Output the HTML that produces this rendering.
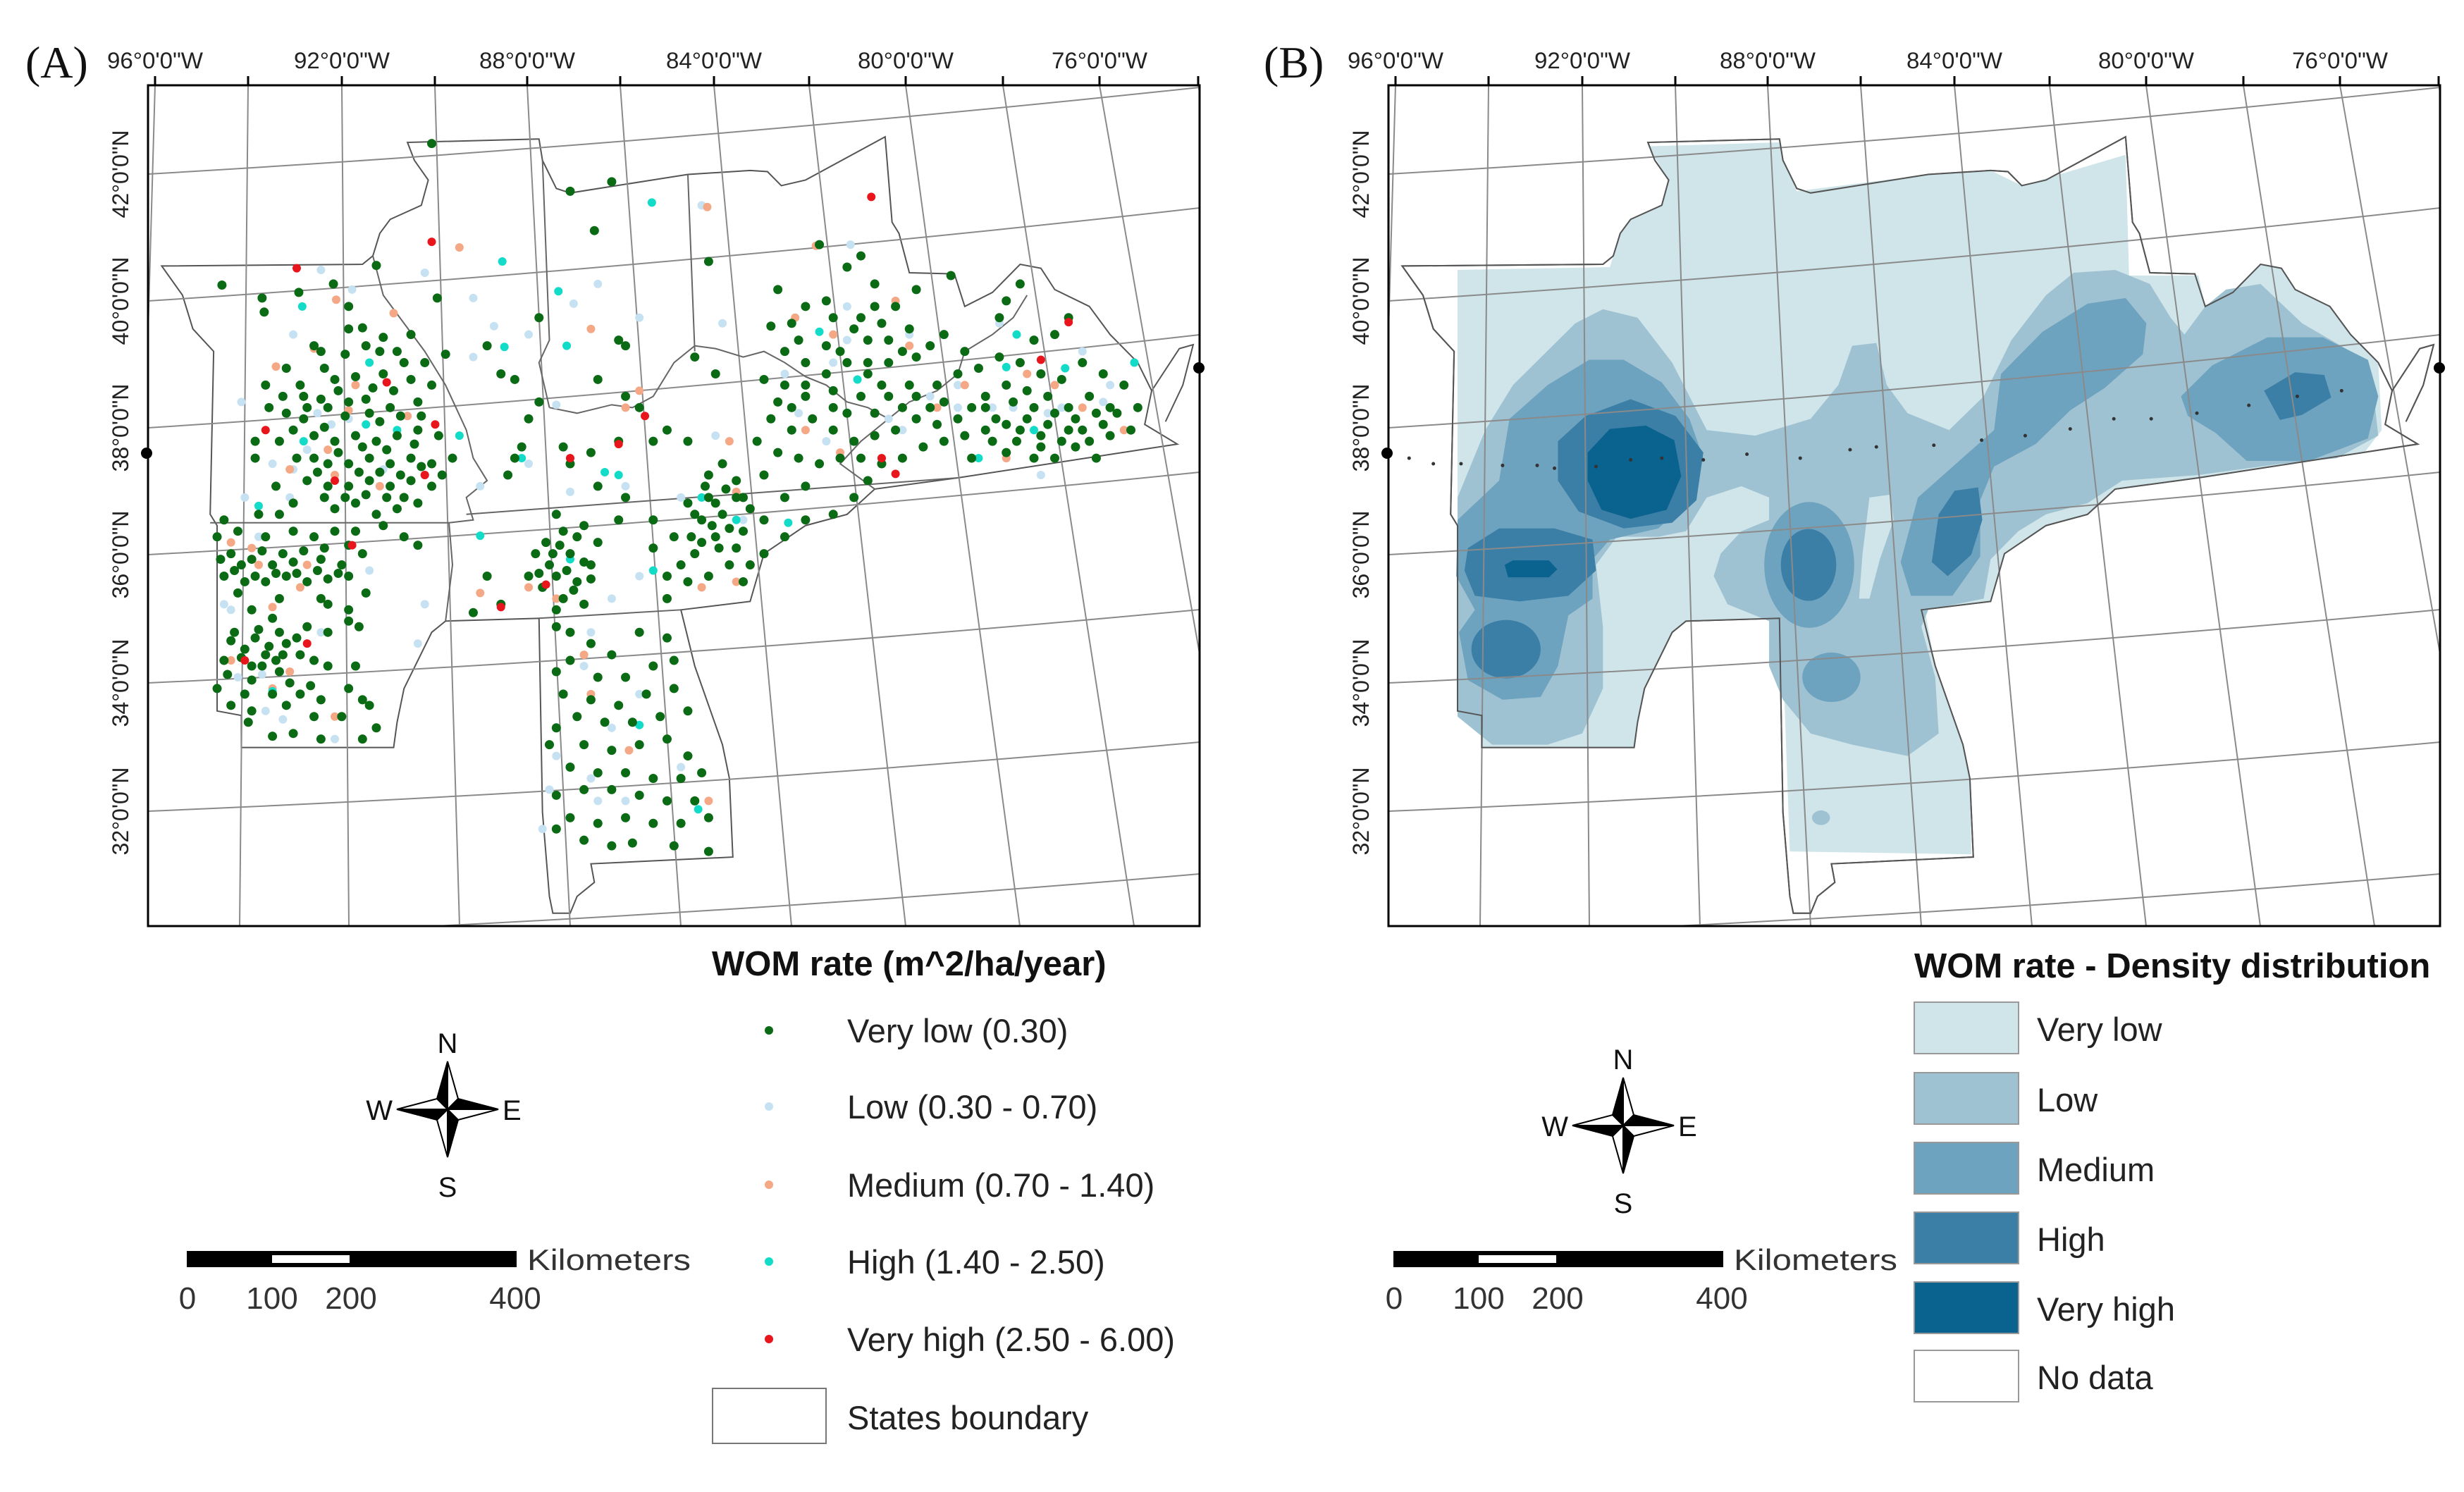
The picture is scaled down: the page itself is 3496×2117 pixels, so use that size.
<!DOCTYPE html>
<html><head><meta charset="utf-8"><style>
html,body{margin:0;padding:0;background:#fff}
svg{display:block}
</style></head><body>
<svg id="fig" xmlns="http://www.w3.org/2000/svg" width="3496" height="2117" viewBox="0 0 3496 2117" font-family="Liberation Sans, Arial, sans-serif">
<defs>
<clipPath id="clipA"><rect x="210" y="121" width="1492" height="1193"/></clipPath>
<clipPath id="clipB"><rect x="1970" y="121" width="1492" height="1193"/></clipPath>
</defs>
<g id="panelA"></g>
<g id="panelB"></g>
</svg>
<script>
// ---- map data (projected map coordinates) ----
const lonLabels = ["96°0'0\"W","92°0'0\"W","88°0'0\"W","84°0'0\"W","80°0'0\"W","76°0'0\"W"];
const lonLabelX = [220,485,748,1013,1285,1560];
const latLabels = ["42°0'0\"N","40°0'0\"N","38°0'0\"N","36°0'0\"N","34°0'0\"N","32°0'0\"N"];
const meridTop = [220,352,485,617,748,880,1013,1148,1285,1423,1560,1700];
const meridBot = [186,340,495,652,809,966,1123,1285,1447,1609,1770,1935];
const parLeft = [247,427,607,787,969,1151,1332];
const parRight = [124,295,475,670,865,1053,1240];

const ptsVeryLow = [[420,130],[655,285],[820,340],[680,198],[620,215],[117,382],[175,405],[178,430],[228,395],[278,380],[300,420],[340,347],[428,405],[410,520],[440,505],[390,470],[350,475],[300,460],[320,458],[260,500],[250,490],[210,530],[180,560],[230,560],[280,550],[310,545],[350,540],[380,520],[420,560],[400,590],[360,600],[330,610],[300,590],[270,600],[240,600],[210,610],[220,640],[250,650],[280,660],[310,650],[340,660],[370,650],[400,640],[430,650],[450,690],[420,700],[390,690],[360,700],[330,690],[300,700],[270,700],[250,690],[240,730],[270,740],[300,740],[330,730],[360,740],[390,730],[420,740],[400,770],[370,780],[340,790],[310,770],[280,780],[220,770],[200,790],[170,790],[165,690],[165,660],[120,800],[110,830],[140,820],[180,830],[220,820],[250,830],[280,820],[310,820],[350,810],[380,830],[400,845],[130,860],[160,870],[190,880],[220,875],[260,870],[290,880],[320,860],[120,900],[150,910],[180,910],[210,900],[240,910],[270,905],[300,900],[140,930],[200,940],[260,940],[300,960],[160,960],[190,975],[240,990],[270,1000],[300,980],[170,995],[200,1000],[130,1015],[150,1030],[180,1040],[210,1020],[230,1040],[250,1050],[120,1050],[160,1060],[200,1070],[270,1060],[110,1100],[150,1110],[190,1110],[230,1110],[260,1120],[300,1100],[320,1120],[130,1130],[160,1140],[210,1130],[250,1150],[290,1150],[330,1130],[155,1160],[190,1185],[220,1180],[260,1190],[320,1190],[340,1170],[310,1060],[315,990],[270,950],[325,930],
[285,570],[295,615],[325,585],[345,625],[375,615],[395,665],[355,675],[320,670],[285,680],[265,635],[235,620],[255,715],[315,715],[345,715],[375,720],[405,705],[435,720],[355,760],[325,755],[295,760],[265,760],[380,760],[405,615],[365,570],[335,565],[260,585],[390,550],[235,580],[225,690],[200,660],[195,740],[185,600],[205,580],[265,530],[295,505],[345,500],[370,500],[325,490],[145,880],[175,855],[205,860],[235,855],[265,850],[300,845],[115,870],[135,890],[165,900],[195,895],[225,895],[255,890],[285,895],[135,1000],[165,1010],[185,1025],[205,1040],[225,1010],[145,1045],[175,1060],[195,1050],[125,1075],[215,1090],[245,1095],[160,1085],
[585,840],[605,845],[630,830],[640,875],[615,890],[595,860],[575,895],[625,925],[650,905],[820,760],[830,770],[845,745],[860,730],[815,740],[800,790],[825,810],[850,815],[835,850],[810,840],[795,830],[860,850],[1220,600],[1260,590],[1290,600],[1320,610],[1350,620],[1380,610],[1410,610],[1235,620],[1270,640],[1300,650],[1330,660],[1360,640],[1390,630],[1160,590],[1140,600],[1230,660],[1265,660],[1290,690],[1320,690],[1000,600],[1020,610],[940,600],[960,560],[920,590],[1060,610],[1100,600],[1120,580],[1050,520],[1070,560],[990,490],[1010,500],[950,480],[940,450],[1040,440],[1060,420],[1080,480],[1100,500],
[575,440],[540,550],[500,490],[520,540],[575,590],[560,620],[540,690],[550,670],[530,720],[610,670],[620,700],[650,680],[690,660],[700,580],[700,490],[690,480],[660,550],[720,600],[740,660],[760,640],[790,660],[800,510],[830,540],[840,700],[820,720],[790,770],[810,800],[840,790],[860,760],[880,780],[830,830],[800,860],[780,880],[770,830],[740,850],[760,900],[790,910],[820,900],[850,880],[870,910],[760,940],[740,800],[700,760],[660,740],[690,800],[600,790],[610,820],[640,810],[620,860],[590,880],[600,900],[630,910],[650,880],[660,840],[570,860],[580,920],[610,940],[640,950],[600,960],[480,965],[520,950],[500,900],[560,900],
[600,990],[620,1000],[650,1020],[680,1040],[720,1000],[760,1010],[770,1050],[740,1060],[700,1080],[660,1080],[620,1050],[600,1070],[610,1110],[650,1120],[690,1130],[730,1110],[770,1100],[790,1140],[750,1150],[710,1160],[670,1160],[630,1150],[600,1170],[590,1200],[640,1200],[680,1210],[720,1200],[760,1190],[790,1220],[810,1250],[780,1260],[740,1260],[700,1250],[660,1250],[620,1240],[600,1290],[640,1280],[680,1280],[720,1290],[760,1300],[800,1300],[820,1330],[780,1340],[740,1340],[700,1330],[660,1340],[620,1330],[640,1370],[680,1380],[710,1375],[770,1380],[820,1390],[600,1350],
[910,455],[920,390],[960,420],[990,410],[1000,440],[1030,460],[1050,480],[1070,450],[1090,420],[1110,460],[1040,330],[980,310],[1020,350],[1060,380],[1120,390],[1170,365],[930,500],[960,520],[990,540],[1020,520],[1050,540],[1080,520],[1120,510],[1140,490],[900,550],[930,560],[960,580],[1000,570],[1040,580],[1080,580],[1110,560],[1150,560],[1180,540],[1210,530],[1240,510],[1270,520],[1300,540],[1330,550],[1360,520],[1390,540],[1420,560],[1440,600],[1400,600],[1370,580],[1340,600],[1310,580],[1280,570],[1250,560],[1220,580],[1200,600],[1180,620],[1150,630],[1120,620],[1090,640],[1060,650],[1030,660],[1000,640],[970,620],[940,640],[910,620],[890,660],[920,680],[950,690],[980,700],[1010,690],[1040,690],[1070,700],[1100,690],[1130,670],[1160,660],[1190,650],[1220,640],[1250,630],[1280,620],[1310,630],[1340,640],[1370,660],[1400,650],[1430,640],[1200,690],[1250,680],[1300,670],[1350,670],[1380,690],[1240,440],[1270,380],[1250,410],[1340,440],[1320,470],[1290,480],[1050,730],[1030,760],[1000,790],[960,800],[930,830],[900,860],[880,880],[930,760],[960,740],[900,720],[870,760],[870,820],[900,800],[1160,470],[1190,500]];
const ptsLow = [[145,590],[220,470],[260,355],[305,390],[410,360],[480,405],[510,455],[600,595],[625,415],[660,380],[810,240],[1025,310],[930,540],[1020,420],[1110,470],[1180,600],[1260,600],[1400,560],[1330,600],[990,660],[950,610],[1200,690],[830,650],[870,800],[780,760],[700,740],[680,940],[720,900],[650,1000],[640,1060],[720,1110],[680,1170],[650,1260],[700,1300],[590,1280],[580,1350],[820,1390],[260,1000],[120,950],[140,1080],[180,1140],[280,1190],[400,1020],[410,950],[330,890],[170,830],[150,760],[220,710],[350,710],[300,620],[490,740],[560,700],[620,750],[1140,580],[1080,620],[1360,500],[1240,450],[1020,480],[840,450],[720,440],[560,470],[480,510],[1300,720],[255,610],[275,630],[240,675],[190,700],[215,760],[130,960],[175,1075],[205,1155],[600,1220],[660,1300],[780,1240],[1180,560],[1230,600],[1310,610],[1390,590],[1100,640],[1000,520]];
const ptsMedium = [[460,315],[975,312],[818,243],[282,408],[365,432],[195,527],[250,495],[310,560],[385,615],[330,690],[280,720],[215,710],[410,720],[130,840],[170,880],[240,880],[190,955],[130,1050],[215,1070],[280,1150],[190,1100],[490,930],[560,920],[620,690],[650,460],[700,600],[720,570],[850,660],[860,750],[810,920],[860,910],[705,1210],[650,1110],[640,1040],[820,1300],[945,440],[1000,470],[1090,410],[1110,490],[960,640],[1010,680],[1190,560],[1280,540],[1320,560],[1360,600],[1420,640],[1070,690],[1250,690],[270,675],[300,605],[345,740],[160,850],[230,920],[600,940],[1150,600]];
const ptsHigh = [[738,235],[522,340],[603,393],[233,420],[330,520],[525,492],[615,490],[235,660],[325,630],[370,640],[460,650],[550,690],[670,715],[690,720],[810,760],[860,800],[935,805],[490,828],[620,870],[740,890],[720,1165],[805,1315],[190,1105],[1035,550],[1250,528],[1265,470],[1335,530],[1435,520],[980,465],[1290,640],[1210,690],[170,775],[300,900]];
const ptsVeryHigh = [[1055,225],[420,305],[225,352],[355,555],[425,630],[305,845],[240,1020],[585,915],[520,955],[728,615],[1090,718],[1070,690],[1300,515],[1340,448],[180,640],[280,730],[410,720],[150,1050],[690,665],[620,690]];
const dotLine = [[40,690],[75,700],[115,700],[175,703],[225,703],[250,708],[310,705],[360,693],[405,690],[465,693],[528,683],[605,690],[677,675],[715,670],[798,667],[867,658],[930,650],[995,638],[1058,620],[1112,620],[1178,610],[1253,596],[1323,580],[1387,570]];

const outline = "M30,348 L320,345 L335,330 L345,290 L360,265 L405,240 L415,195 L395,160 L385,128 L575,122 L580,160 L600,210 L620,218 L790,185 L880,178 L905,180 L925,205 L960,195 L1075,118 L1085,270 L1095,290 L1110,360 L1175,362 L1190,420 L1230,395 L1270,345 L1300,352 L1320,390 L1370,420 L1400,470 L1440,520 L1460,570 L1450,630 L1497,665 L1180,725 L1060,745 L1020,790 L960,810 L900,860 L880,945 L780,960 L800,1060 L840,1200 L850,1260 L855,1400 L650,1412 L655,1445 L630,1470 L620,1500 L595,1500 L590,1470 L580,1320 L575,975 L440,980 L420,1000 L400,1050 L380,1100 L370,1160 L365,1205 L145,1205 L145,1148 L110,1140 L110,810 L100,790 L105,500 L75,460 L60,400 Z M1460,570 L1500,495 L1520,488 L1505,560 L1480,625";
const inner = ["M100,805 L445,805","M335,330 L350,400 L380,450 L410,500 L440,560 L470,640 L480,690 L500,730 L470,760 L480,800 L445,805 L450,880 L440,980","M580,160 L590,480 L575,520 L590,600","M590,600 L630,610 L680,595 L710,600 L740,580 L770,520 L800,490 L830,495 L870,510 L900,500 L930,520 L960,545 L990,560 L1020,590 L1050,600 L1080,620","M790,185 L800,500","M1080,620 L1110,590 L1150,570 L1180,540 L1190,500 L1230,470 L1260,440 L1280,400","M1080,620 L1040,660 L1010,700 L1060,745","M470,790 L1180,725","M575,975 L780,960"];

const densVL = "M110,355 L330,350 L345,290 L360,265 L405,240 L415,195 L385,135 L575,128 L580,160 L600,215 L790,185 L880,178 L925,205 L1075,150 L1080,365 L1180,365 L1190,420 L1230,395 L1270,345 L1300,352 L1320,390 L1370,420 L1400,470 L1440,520 L1445,640 L1420,680 L1180,725 L1060,745 L1020,790 L960,810 L900,860 L880,945 L785,960 L800,1060 L840,1200 L850,1260 L852,1395 L590,1390 L578,975 L440,980 L420,1000 L380,1100 L365,1205 L145,1205 L145,1148 L110,1140 Z";
const densLow = ["M110,760 L150,640 L190,560 L280,450 L320,425 L370,440 L420,520 L470,640 L540,650 L620,620 L660,560 L680,490 L715,485 L730,560 L760,610 L820,640 L870,580 L910,480 L960,400 L1000,360 L1060,355 L1110,380 L1140,440 L1160,470 L1190,420 L1220,390 L1270,380 L1330,450 L1400,500 L1430,540 L1440,650 L1380,690 L1300,700 L1180,720 L1070,730 L1020,770 L960,790 L920,820 L880,870 L870,940 L790,960 L780,990 L800,1080 L805,1180 L760,1220 L680,1200 L620,1180 L580,1120 L560,1060 L560,980 L500,950 L480,900 L490,860 L520,820 L560,800 L560,760 L520,740 L470,760 L440,820 L400,830 L340,830 L310,880 L320,990 L320,1100 L290,1180 L240,1200 L160,1200 L110,1150 Z","M622,1330 a13,13 0 1,0 26,0 a13,13 0 1,0 -26,0 Z"];
const densVLgap = "M705,760 L735,755 L740,800 L720,870 L705,940 L690,940 L695,860 Z";
const densMed = ["M110,800 L170,730 L185,620 L240,560 L300,515 L350,515 L405,555 L445,620 L465,690 L445,765 L400,815 L330,835 L305,870 L305,940 L270,970 L255,1060 L230,1115 L175,1120 L125,1085 L112,1000 L135,960 L108,900 Z","M553,880 a65,112 0 1,0 130,0 a65,112 0 1,0 -130,0 Z","M608,1080 a42,44 0 1,0 84,0 a42,44 0 1,0 -84,0 Z","M750,875 L775,760 L830,700 L885,640 L895,540 L955,465 L1020,415 L1075,405 L1105,450 L1100,505 L1045,565 L995,605 L945,665 L885,705 L865,765 L865,865 L825,935 L765,935 Z","M1155,580 L1200,525 L1280,475 L1360,475 L1425,515 L1440,580 L1425,655 L1340,695 L1250,695 L1205,645 L1165,615 Z"];
const densHigh = ["M255,660 L295,615 L360,585 L425,615 L465,680 L455,765 L420,805 L350,815 L285,785 L255,730 Z","M125,850 L170,815 L250,815 L305,835 L310,890 L270,935 L200,945 L135,935 L120,890 Z","M130,1030 a50,52 0 1,0 100,0 a50,52 0 1,0 -100,0 Z","M577,880 a40,64 0 1,0 80,0 a40,64 0 1,0 -80,0 Z","M795,875 L805,790 L828,748 L862,742 L868,800 L852,862 L818,900 Z","M1275,570 L1320,537 L1362,542 L1372,582 L1330,613 L1298,622 Z"];
const densVH = ["M298,680 L330,638 L382,632 L423,658 L433,722 L412,782 L360,798 L318,782 L298,730 Z","M178,880 L190,872 L242,872 L254,888 L242,902 L183,902 Z"];

const ptColors = ["#0a6b14","#c6e2f2","#f4a885","#12dcc8","#e8161c"];
const densColors = ["#cfe5ea","#9fc2d3","#6ea3bf","#3b7ea6","#0a628e"];

const NS="http://www.w3.org/2000/svg";
function mk(tag,attrs,parent,txt){const e=document.createElementNS(NS,tag);for(const k in attrs)e.setAttribute(k,attrs[k]);if(txt!==undefined)e.textContent=txt;parent.appendChild(e);return e;}
const SX=0.9822, SY=0.7972;
function px(zx,off){return zx*SX+200+off;}
function py(zy){return zy*SY+100;}
function tf(off){return `translate(${200+off},100) scale(${SX},${SY})`;}

function drawFrame(g,off){
  const clip=off?"url(#clipB)":"url(#clipA)";
  const grid=mk("g",{"clip-path":clip},g);
  
  
  meridTop.forEach((t,i)=>{
    const l=mk("line",{x1:t+off,y1:121,x2:meridBot[i]+off,y2:1314,stroke:"#8a8a8a","stroke-width":2},grid);
    
    
    if(t<1702){
      const tk=mk("line",{x1:t+off,y1:108,x2:t+off,y2:121,stroke:"#000","stroke-width":3},g);
      
      
    }
  });
  parLeft.forEach((yl,i)=>{
    const yr=parRight[i];const mx=956+off;const my=(yl+yr)/2+18;
    const p=mk("path",{d:`M${210+off},${yl} Q${mx},${my} ${1702+off},${yr}`,fill:"none",stroke:"#8a8a8a","stroke-width":2},grid);
    
    
  });
}
function drawLabels(g,off,label,lx){
  const t=mk("text",{x:lx,y:110,"font-family":"Liberation Serif, serif","font-size":64,fill:"#111"},g,label);
  
  
  lonLabels.forEach((s,i)=>{
    const e=mk("text",{x:lonLabelX[i]+off,y:97,"font-size":32,"text-anchor":"middle",fill:"#222",textLength:136,lengthAdjust:"spacingAndGlyphs"},g,s);
    
    
  });
  latLabels.forEach((s,i)=>{
    const y=parLeft[i];
    const e=mk("text",{x:0,y:0,"font-size":32,"text-anchor":"middle",fill:"#222",textLength:125,lengthAdjust:"spacingAndGlyphs",transform:`translate(${182+off},${y}) rotate(-90)`},g,s);
    
    
  });
  const fr=mk("rect",{x:210+off,y:121,width:1492,height:1193,fill:"none",stroke:"#000","stroke-width":3},g);
  
  
  [[208+off,643],[1701+off,522]].forEach(p=>{
    const c=mk("circle",{cx:p[0],cy:p[1],r:8,fill:"#000"},g);
    
    
  });
}
function drawOutline(g,off,fill){
  const sg=mk("g",{transform:tf(off)},g);
  
  
  const o=mk("path",{d:outline,fill:fill,stroke:"#555","stroke-width":2,"vector-effect":"non-scaling-stroke"},sg);
  
  
}
function drawInner(g,off){
  const sg=mk("g",{transform:tf(off)},g);
  
  
  inner.forEach(d=>{
    const p=mk("path",{d:d,fill:"none",stroke:"#666","stroke-width":2,"vector-effect":"non-scaling-stroke"},sg);
    
    
  });
}
function compass(g,cx,cy){
  const c=mk("g",{},g);
  
  
  const t=68,b=68,w=72,s=15;
  const tri=(d,f)=>mk("path",{d:d,fill:f,stroke:"#000","stroke-width":2,"stroke-linejoin":"miter"},c);
  tri(`M${cx},${cy-t} L${cx+s},${cy-s} L${cx},${cy} Z`,"#fff");
  tri(`M${cx},${cy-t} L${cx-s},${cy-s} L${cx},${cy} Z`,"#000");
  tri(`M${cx},${cy+b} L${cx+s},${cy+s} L${cx},${cy} Z`,"#000");
  tri(`M${cx},${cy+b} L${cx-s},${cy+s} L${cx},${cy} Z`,"#fff");
  tri(`M${cx+w},${cy} L${cx+s},${cy-s} L${cx},${cy} Z`,"#000");
  tri(`M${cx+w},${cy} L${cx+s},${cy+s} L${cx},${cy} Z`,"#fff");
  tri(`M${cx-w},${cy} L${cx-s},${cy+s} L${cx},${cy} Z`,"#000");
  tri(`M${cx-w},${cy} L${cx-s},${cy-s} L${cx},${cy} Z`,"#fff");
  mk("text",{x:cx,y:cy-80,"font-size":40,"text-anchor":"middle",fill:"#111"},c,"N");
  mk("text",{x:cx,y:cy+124,"font-size":40,"text-anchor":"middle",fill:"#111"},c,"S");
  mk("text",{x:cx-78,y:cy+15,"font-size":40,"text-anchor":"end",fill:"#111"},c,"W");
  mk("text",{x:cx+78,y:cy+15,"font-size":40,"text-anchor":"start",fill:"#111"},c,"E");
}
function scalebar(g,off){
  const s=mk("g",{},g);
  
  
  const y0=1775;
  mk("rect",{x:265+off,y:y0,width:468,height:23,fill:"#000"},s);
  mk("rect",{x:386+off,y:y0+6,width:110,height:11,fill:"#fff"},s);
  mk("text",{x:748+off,y:y0+27,"font-size":42,fill:"#333",textLength:232,lengthAdjust:"spacingAndGlyphs"},s,"Kilometers");
  [["0",266],["100",386],["200",498],["400",731]].forEach(a=>{
    mk("text",{x:a[1]+off,y:y0+82,"font-size":44,"text-anchor":"middle",fill:"#333"},s,a[0]);
  });
}

// ---- Panel A ----
const A=document.getElementById("panelA");
drawOutline(A,0,"#fff");
drawFrame(A,0);
drawInner(A,0);
const ptsAll=[ptsVeryLow,ptsLow,ptsMedium,ptsHigh,ptsVeryHigh];
const ptNames=['point-very-low','point-low','point-medium','point-high','point-very-high'];
[1,2,3,0,4].forEach(k=>{
  const pg=mk("g",{},A);
  
  
  ptsAll[k].forEach(p=>{
    const c=mk("circle",{cx:px(p[0],0),cy:py(p[1]),r:k===0?6.5:6,fill:ptColors[k]},pg);
    
    
  });
});
drawLabels(A,0,"(A)",36);
compass(A,635,1574);
scalebar(A,0);
const LA=mk("g",{},A);


mk("text",{x:1010,y:1384,"font-size":49,"font-weight":"bold",fill:"#111"},LA,"WOM rate (m^2/ha/year)");
const legA=["Very low (0.30)","Low (0.30 - 0.70)","Medium (0.70 - 1.40)","High (1.40 - 2.50)","Very high (2.50 - 6.00)"];
const legAy=[1462,1570,1681,1790,1900];
legA.forEach((s,i)=>{
  const e=mk("g",{},LA);
  
  
  mk("circle",{cx:1091,cy:legAy[i],r:6,fill:ptColors[i]},e);
  mk("text",{x:1202,y:legAy[i]+17,"font-size":47,fill:"#222"},e,s);
});
const sb=mk("g",{},LA);


mk("rect",{x:1011,y:1970,width:161,height:78,fill:"#fff",stroke:"#777","stroke-width":2},sb);
mk("text",{x:1202,y:2028,"font-size":47,fill:"#222"},sb,"States boundary");

// ---- Panel B ----
const B=document.getElementById("panelB");
const OFF=1760;
drawOutline(B,OFF,"#fff");
const dg=mk("g",{transform:tf(OFF)},B);


function fillPaths(list,color,name){
  list.forEach(d=>{
    const p=mk("path",{d:d,fill:color},dg);
    
    
  });
}
fillPaths([densVL],densColors[0],'density-very-low');
fillPaths(densLow,densColors[1],'density-low');
fillPaths([densVLgap],densColors[0],'density-very-low');
fillPaths(densMed,densColors[2],'density-medium');
fillPaths(densHigh,densColors[3],'density-high');
fillPaths(densVH,densColors[4],'density-very-high');
drawFrame(B,OFF);
drawOutline(B,OFF,"none");
dotLine.forEach(p=>{
  const c=mk("circle",{cx:px(p[0],OFF),cy:py(p[1]),r:2.5,fill:"#333"},B);
  
  
});
drawLabels(B,OFF,"(B)",1793);
compass(B,2303,1597);
scalebar(B,1712);
const LB=mk("g",{},B);


mk("text",{x:2716,y:1387,"font-size":49,"font-weight":"bold",fill:"#111"},LB,"WOM rate - Density distribution");
const legB=["Very low","Low","Medium","High","Very high","No data"];
const legBy=[1422,1522,1621,1720,1819,1916];
const legBc=densColors.concat(["#ffffff"]);
legB.forEach((s,i)=>{
  const e=mk("g",{},LB);
  
  
  mk("rect",{x:2716,y:legBy[i],width:148,height:73,fill:legBc[i],stroke:"#999","stroke-width":2},e);
  mk("text",{x:2890,y:legBy[i]+55,"font-size":47,fill:"#222"},e,s);
});
</script>
</body></html>
